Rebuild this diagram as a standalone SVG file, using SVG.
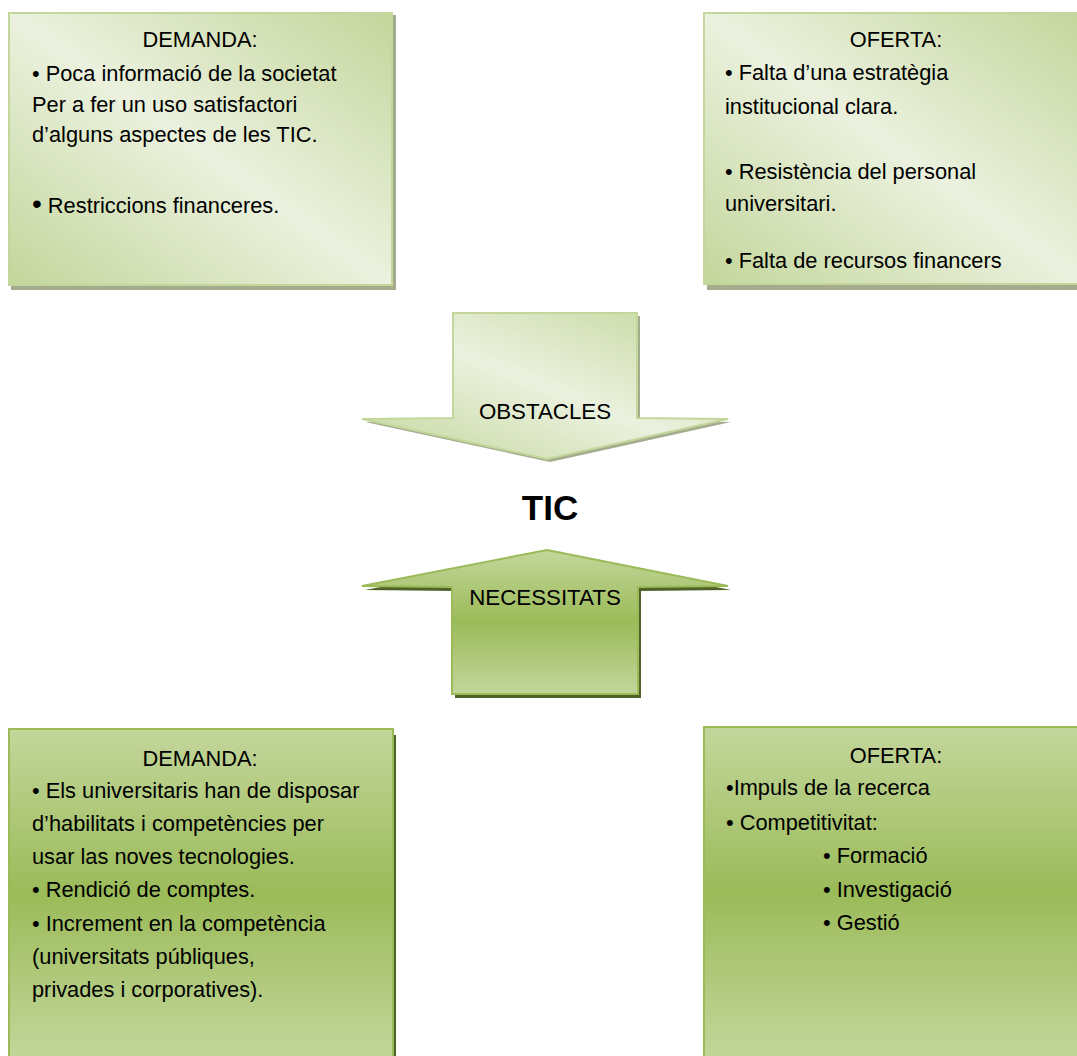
<svg xmlns="http://www.w3.org/2000/svg" width="1077" height="1056" viewBox="0 0 1077 1056">
  <style>
    text { font-family: "Liberation Sans", Arial, sans-serif; font-size: 21.8px; fill: #000; }
    .center { text-anchor: middle; }
    .title { font-size: 35px; font-weight: bold; }
    .arrow-label { font-size: 22.3px; }
    .light-box { fill: url(#lightDiag); stroke: #c3d69b; stroke-width: 2; }
    .light-shadow { fill: #a4ac8d; }
    .mid-box { fill: url(#midVert); stroke: #9bbb59; stroke-width: 2; }
    .mid-shadow { fill: #4f6228; }
    .big-bullet { font-size: 28px; }
  </style>
  <defs>
    <linearGradient id="lightDiag" x1="0" y1="1" x2="1" y2="0">
      <stop offset="0" stop-color="#c3d69b"/>
      <stop offset="0.5" stop-color="#ebf1de"/>
      <stop offset="1" stop-color="#c3d69b"/>
    </linearGradient>
    <linearGradient id="midVert" x1="0" y1="0" x2="0" y2="1">
      <stop offset="0" stop-color="#c3d69b"/>
      <stop offset="0.5" stop-color="#9bbb59"/>
      <stop offset="1" stop-color="#c3d69b"/>
    </linearGradient>
  </defs>

  <!-- Obstacles: demand side -->
  <g id="obstacles-demanda">
    <rect class="light-shadow" x="11" y="15" width="385" height="275"/>
    <rect class="light-box" x="9" y="13" width="383" height="272"/>
    <text class="center" x="200" y="47">DEMANDA:</text>
    <text x="32" y="81">• Poca informació de la societat</text>
    <text x="32" y="112">Per a fer un uso satisfactori</text>
    <text x="32" y="142">d’alguns aspectes de les TIC.</text>
    <text x="32" y="213"><tspan class="big-bullet">•</tspan> Restriccions financeres.</text>
  </g>

  <!-- Obstacles: supply side -->
  <g id="obstacles-oferta">
    <rect class="light-shadow" x="707" y="16" width="380" height="274"/>
    <rect class="light-box" x="704" y="13" width="383" height="271"/>
    <text class="center" x="896" y="47">OFERTA:</text>
    <text x="725" y="80">• Falta d’una estratègia</text>
    <text x="725" y="114">institucional clara.</text>
    <text x="725" y="179">• Resistència del personal</text>
    <text x="725" y="211">universitari.</text>
    <text x="725" y="268">• Falta de recursos financers</text>
  </g>

  <!-- Central concept -->
  <g id="tic">
    <text class="center title" x="550" y="520">TIC</text>
  </g>

  <!-- Block arrows pointing at the central concept -->
  <g id="connectors">
    <g id="arrow-obstacles">
      <polygon class="light-shadow" points="456,316 640,316 640,421 731,422 550,462 365,422 456,421"/>
      <polygon class="light-box" points="453,313 637,313 637,418 728,419 547,459 362,419 453,418"/>
      <text class="center arrow-label" x="545" y="419">OBSTACLES</text>
    </g>
    <g id="arrow-necessitats">
      <polygon class="mid-shadow" points="550,554 731,590 641,591 641,698 455,698 455,591 365,590"/>
      <polygon points="547,550 728,586 638,587 638,694 452,694 452,587 362,586" fill="url(#midVert)" stroke="#9bbb59" stroke-width="2"/>
      <text class="center arrow-label" x="545" y="605">NECESSITATS</text>
    </g>
  </g>

  <!-- Needs: demand side -->
  <g id="necessitats-demanda">
    <rect class="mid-shadow" x="12" y="735" width="384" height="330"/>
    <rect class="mid-box" x="9" y="729" width="384" height="330"/>
    <text class="center" x="200" y="766">DEMANDA:</text>
    <text x="32" y="798">• Els universitaris han de disposar</text>
    <text x="32" y="831">d’habilitats i competències per</text>
    <text x="32" y="864">usar las noves tecnologies.</text>
    <text x="32" y="897">• Rendició de comptes.</text>
    <text x="32" y="931">• Increment en la competència</text>
    <text x="32" y="964">(universitats públiques,</text>
    <text x="32" y="997">privades i corporatives).</text>
  </g>

  <!-- Needs: supply side -->
  <g id="necessitats-oferta">
    <rect class="mid-box" x="704" y="727" width="383" height="332"/>
    <text class="center" x="896" y="763">OFERTA:</text>
    <text x="726" y="795">•Impuls de la recerca</text>
    <text x="726" y="830">• Competitivitat:</text>
    <text x="823" y="863">• Formació</text>
    <text x="823" y="897">• Investigació</text>
    <text x="823" y="930">• Gestió</text>
  </g>
</svg>
